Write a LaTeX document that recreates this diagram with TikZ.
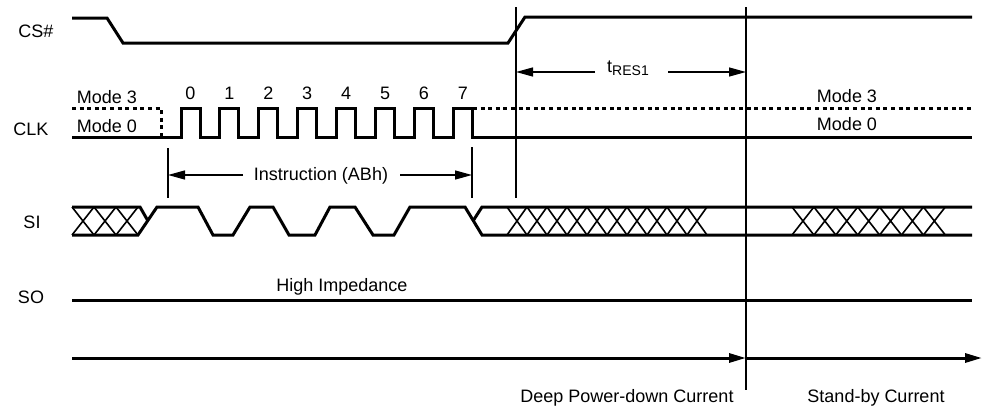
\documentclass[tikz,border=0pt]{standalone}
\usepackage{fontspec}
\setmainfont{Liberation Sans}
\usetikzlibrary{arrows.meta}
\begin{document}
\begin{tikzpicture}[x=1pt,y=-1pt,
  sig/.style={line width=3pt},
  thinline/.style={line width=1.3pt},
  xline/.style={line width=1.6pt},
  dotsig/.style={line width=3pt, dash pattern=on 4pt off 3.6pt},
  lbl/.style={font=\fontsize{18}{20}\selectfont, inner sep=0pt, anchor=base},
  tip/.style={-{Triangle[length=17pt,width=9pt]}}]
\useasboundingbox (0,0) rectangle (984,407);

% ---- labels of signals
\node[lbl] (cs)  at (36,37)  {CS\#};
\node[lbl] (clk) at (31,135) {CLK};
\node[lbl] (si)  at (32,228) {SI};
\node[lbl] (so)  at (31,303) {SO};

% ---- CS#
\draw[sig] (72,18) -- (107,18) -- (123,43) -- (508,43) -- (525,17) -- (972,17);

% ---- vertical markers
\coordinate (v1t) at (516,7);  \coordinate (v1b) at (516,198);
\coordinate (v2t) at (746,7);  \coordinate (v2b) at (746,390);
\draw[thinline] (v1t) -- (v1b);
\draw[thinline] (v2t) -- (v2b);

% ---- tRES1
\node[lbl] (tres) at (628,72) {t\raisebox{-0.32ex}{\fontsize{14}{14}\selectfont RES1}};
\coordinate (ta) at (595,72); \coordinate (tb) at (516,72);
\coordinate (tc) at (668,72); \coordinate (td) at (746,72);
\draw[thinline,tip] (ta) -- (tb);
\draw[thinline,tip] (tc) -- (td);

% ---- CLK
\node[lbl] (m3l) at (107,103) {Mode 3};
\node[lbl] (m0l) at (107,132) {Mode 0};
\node[lbl] (m3r) at (847,102) {Mode 3};
\node[lbl] (m0r) at (847,130) {Mode 0};
\draw[dotsig] (72,108) -- (161,108) -- (161,137);
\draw[dotsig] (473,108) -- (972,108);
\draw[sig] (72,137)
  foreach \i in {0,...,7} { -- ({181+38.9*\i},137) -- ({181+38.9*\i},108)
     -- ({200+38.9*\i},108) -- ({200+38.9*\i},137) } -- (972,137);
\foreach \i in {0,...,7} \node[lbl] (n\i) at ({190.5+38.9*\i},99) {\i};

% ---- Instruction
\coordinate (ia) at (168,148); \coordinate (ib) at (168,198);
\coordinate (ic) at (472,147); \coordinate (id) at (472,198);
\draw[thinline] (ia) -- (ib);
\draw[thinline] (ic) -- (id);
\node[lbl] (instr) at (321,180) {Instruction (ABh)};
\coordinate (ie) at (243,175); \coordinate (if) at (168,175);
\coordinate (ig) at (400,175); \coordinate (ih) at (472,175);
\draw[thinline,tip] (ie) -- (if);
\draw[thinline,tip] (ig) -- (ih);

% ---- SI
\draw[sig] (72,207) -- (140,207) -- (148,221);
\draw[sig] (72,235) -- (138,235) -- (157,207) -- (198,207) -- (213,235) -- (233,235)
  -- (250,207) -- (273,207) -- (289,235) -- (315,235) -- (330,207) -- (355,207)
  -- (373,235) -- (394,235) -- (410,207) -- (465,207) -- (482,235) -- (972,235);
\draw[sig] (972,207) -- (482,207) -- (473,221);
\foreach \k in {0,1,2}
  \draw[xline] ({72+22*\k},207) -- ({94+22*\k},235) ({72+22*\k},235) -- ({94+22*\k},207);
\foreach \k in {0,...,9}
  \draw[xline] ({507+20*\k},207) -- ({527+20*\k},235) ({507+20*\k},235) -- ({527+20*\k},207);
\foreach \k in {0,...,6}
  \draw[xline] ({792+21.9*\k},207) -- ({813.9+21.9*\k},235) ({792+21.9*\k},235) -- ({813.9+21.9*\k},207);

% ---- SO
\draw[sig] (72,300) -- (972,300);
\node[lbl] (hiz) at (342,291) {High Impedance};

% ---- current axis
\coordinate (c0) at (72,358); \coordinate (c1) at (746,358); \coordinate (c2) at (982,358);
\draw[sig,tip] (c0) -- (c1);
\draw[sig,tip] (c1) -- (c2);
\node[lbl] (dpd) at (627,402) {Deep Power-down Current};
\node[lbl] (sby) at (876,402) {Stand-by Current};
\end{tikzpicture}
\end{document}
